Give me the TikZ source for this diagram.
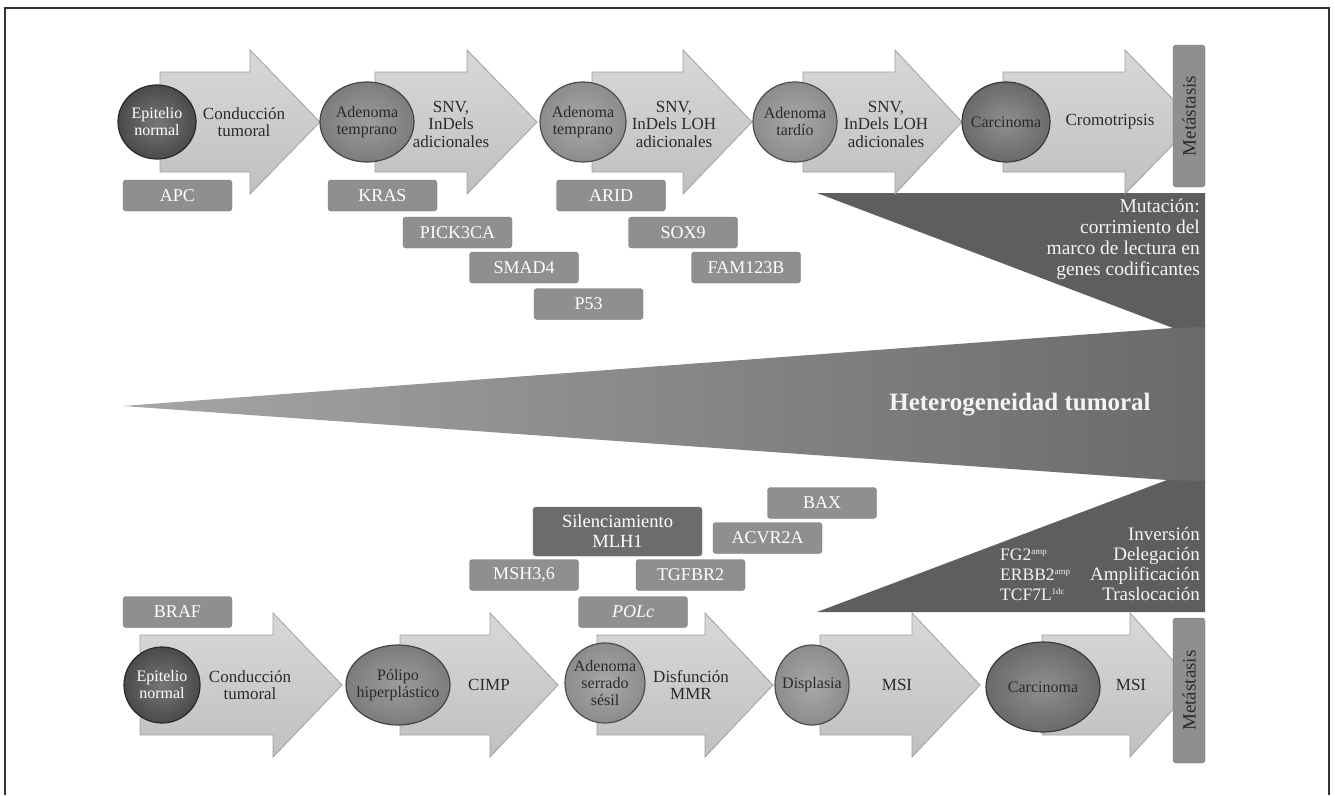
\documentclass[tikz,border=0pt]{standalone}
\usepackage{fontspec}
\setmainfont{Liberation Serif}
\usetikzlibrary{shapes.geometric}
\definecolor{arrowtop}{HTML}{D8D8D8}
\definecolor{arrowbot}{HTML}{C0C0C0}
\definecolor{arrowedge}{HTML}{A0A0A0}
\definecolor{genefill}{HTML}{8F8F8F}
\definecolor{geneedge}{HTML}{777777}
\definecolor{mlhfill}{HTML}{6C6C6C}
\definecolor{darkfill}{HTML}{5E5E5E}
\definecolor{wedgeleft}{HTML}{A6A6A6}
\definecolor{wedgeright}{HTML}{6A6A6A}
\definecolor{blobdark}{HTML}{4A4A4A}
\definecolor{blobmid}{HTML}{7C7C7C}
\definecolor{bloblight}{HTML}{8C8C8C}
\definecolor{blobcarc}{HTML}{6A6A6A}
\definecolor{inktext}{HTML}{2A2A2A}
\definecolor{paletext}{HTML}{F4F4F4}
\definecolor{framecol}{HTML}{333333}
\newcommand\fatarrow[4]{\path[arrowbody] (#1,#4-50) -- (#2,#4-50) -- (#2,#4-72) -- (#3,#4) -- (#2,#4+72) -- (#2,#4+50) -- (#1,#4+50) -- cycle;}
\newcommand\blob[5]{\path[draw=#5!55!black, line width=1.2pt, shading=radial, inner color=#5!75!white, outer color=#5] (#1,#2) ellipse [x radius=#3, y radius=#4];}
\newcommand\smallsup[1]{\raisebox{6pt}{\fontsize{9}{9}\selectfont #1}}
\begin{document}
\begin{tikzpicture}[x=1pt,y=-1pt,
  arrowbody/.style={draw=arrowedge, line width=0.8pt, top color=arrowtop, bottom color=arrowbot},
  arrowtxt/.style={align=center, text=inktext, font=\fontsize{17}{17.5}\selectfont, inner sep=0pt},
  blobtxt/.style={align=center, text=inktext, font=\fontsize{16}{17}\selectfont, inner sep=0pt},
  genebox/.style={draw=geneedge, fill=genefill, rounded corners=3pt, text=white, font=\fontsize{18}{19}\selectfont, minimum width=109pt, minimum height=31pt, inner sep=0pt},
  metabox/.style={draw=geneedge, fill=genefill, rounded corners=3pt, text=inktext, font=\fontsize{19}{20}\selectfont, minimum width=142pt, minimum height=32pt, inner sep=0pt, rotate=90},
  sidetxt/.style={align=right, text=paletext, font=\fontsize{19.5}{21}\selectfont, inner sep=0pt}
]
\useasboundingbox (0,0) rectangle (1335,795);
\fill[white] (0,0) rectangle (1335,795);
% frame
\draw[framecol, line width=1.3pt] (5,795) -- (5,8) -- (1329,8) -- (1329,795);

% central dark shape
\shade[left color=wedgeleft, right color=wedgeright] (123,406) -- (1205,325.6) -- (1205,482.7) -- cycle;
\fill[darkfill] (817,193) -- (1205,193) -- (1205,327) -- (1173,328) -- cycle;
\fill[darkfill] (817,612) -- (1205,612) -- (1205,481) -- (1167,480) -- cycle;
\node[text=paletext, font=\bfseries\fontsize{25}{27}\selectfont, inner sep=0pt] (het) at (1020,405) {Heterogeneidad tumoral};
\node[sidetxt, anchor=east] (mut) at (1200,239) {Mutación:\\corrimiento del\\marco de lectura en\\genes codificantes};
\node[sidetxt, font=\fontsize{19}{20}\selectfont, anchor=east] (inv) at (1200,564) {Inversión\\Delegación\\Amplificación\\Traslocación};
\node[align=left, text=paletext, font=\fontsize{17.5}{20}\selectfont, inner sep=0pt, anchor=west] (amp) at (1000,575) {FG2\smallsup{amp}\\ERBB2\smallsup{amp}\\TCF7L\smallsup{1dc}};

% top row arrows
\fatarrow{160}{250}{320}{122}
\fatarrow{375}{467}{537}{122}
\fatarrow{592}{683}{752}{122}
\fatarrow{803}{895}{962}{122}
\fatarrow{1003}{1125}{1195}{122}
% bottom row arrows
\fatarrow{140}{273}{342}{685}
\fatarrow{400}{490}{558}{685}
\fatarrow{597}{705}{773}{685}
\fatarrow{820}{912}{980}{685}
\fatarrow{1042}{1130}{1195}{685}

% top row blobs
\blob{157}{122}{39}{37}{blobdark}
\blob{367}{122}{47}{40}{blobmid}
\blob{583}{122}{43}{40}{bloblight}
\blob{795}{122}{42}{40}{bloblight}
\blob{1006}{122}{44}{40}{blobcarc}
% bottom row blobs
\blob{162}{685}{38}{38}{blobdark}
\blob{398}{685}{52}{40}{blobmid}
\blob{605}{683}{40}{40}{bloblight}
\blob{812}{685}{37}{40}{bloblight}
\blob{1043}{687}{57}{45}{blobcarc}

% blob texts
\node[blobtxt, text=white] (e1) at (157,122) {Epitelio\\normal};
\node[blobtxt] (e2) at (367,122) {Adenoma\\temprano};
\node[blobtxt] (e3) at (583,122) {Adenoma\\temprano};
\node[blobtxt] (e4) at (795,122) {Adenoma\\tardío};
\node[blobtxt] (e5) at (1006,122) {Carcinoma};
\node[blobtxt, text=white] (f1) at (162,685) {Epitelio\\normal};
\node[blobtxt] (f2) at (398,685) {Pólipo\\hiperplástico};
\node[blobtxt] (f3) at (605,683) {Adenoma\\serrado\\sésil};
\node[blobtxt] (f4) at (812,685) {Displasia};
\node[blobtxt] (f5) at (1043,687) {Carcinoma};

% arrow texts
\node[arrowtxt] (t1) at (244,122) {Conducción\\tumoral};
\node[arrowtxt] (t2) at (451,124) {SNV,\\InDels\\adicionales};
\node[arrowtxt] (t3) at (674,124) {SNV,\\InDels LOH\\adicionales};
\node[arrowtxt] (t4) at (886,124) {SNV,\\InDels LOH\\adicionales};
\node[arrowtxt] (t5) at (1110,122) {Cromotripsis};
\node[arrowtxt] (u1) at (250,685) {Conducción\\tumoral};
\node[arrowtxt] (u2) at (489,685) {CIMP};
\node[arrowtxt] (u3) at (691,685) {Disfunción\\MMR};
\node[arrowtxt] (u4) at (897,685) {MSI};
\node[arrowtxt] (u5) at (1131,685) {MSI};

% metastasis boxes
\node[metabox] (m1) at (1189,116) {Metástasis};
\node[metabox, minimum width=145pt] (m2) at (1189,690.5) {Metástasis};

% gene boxes
\node[genebox] (apc) at (177.5,195.5) {APC};
\node[genebox] (kras) at (382.5,195.5) {KRAS};
\node[genebox] (arid) at (611,195.5) {ARID};
\node[genebox] (pick) at (457.5,232.5) {PICK3CA};
\node[genebox] (sox) at (683,232.5) {SOX9};
\node[genebox] (smad) at (524,267.5) {SMAD4};
\node[genebox] (fam) at (746,267.5) {FAM123B};
\node[genebox] (p53) at (588.5,304) {P53};
\node[genebox] (braf) at (177.5,612) {BRAF};
\node[genebox] (msh) at (524,575) {MSH3,6};
\node[genebox] (tgf) at (690.5,575) {TGFBR2};
\node[genebox] (pol) at (633,612) {\textit{POLc}};
\node[genebox, fill=mlhfill, minimum width=169pt, minimum height=49pt, align=center, font=\fontsize{18.5}{20}\selectfont] (mlh) at (617.5,531.5) {Silenciamiento\\MLH1};
\node[genebox] (acv) at (767.5,538) {ACVR2A};
\node[genebox] (bax) at (822,503) {BAX};
\end{tikzpicture}
\end{document}
